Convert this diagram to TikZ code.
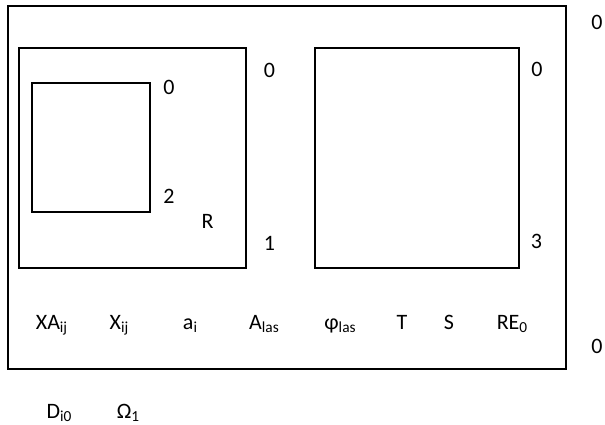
\documentclass[tikz,border=0pt]{standalone}
\usepackage{fontspec}
\setmainfont{Carlito}
\newcommand{\sbs}[1]{\raisebox{-0.32ex}{\fontsize{11.5}{12}\selectfont #1}}
\begin{document}
\begin{tikzpicture}[x=0.75pt,y=-0.75pt,
  box/.style={draw=black,line width=1.2pt},
  lbl/.style={anchor=base,inner sep=0pt,font=\fontsize{16.5}{19}\selectfont}]
\useasboundingbox (0,0) rectangle (605,424);
% boxes
\draw[box] (8,6) rectangle (566,369);
\draw[box] (19,48) rectangle (246,268);
\draw[box] (32,83) rectangle (150,212);
\draw[box] (315,48) rectangle (519,268);
% numbers
\node[lbl] (o0) at (597,30) {0};
\node[lbl] (l0) at (269.5,78) {0};
\node[lbl] (s0) at (169,95) {0};
\node[lbl] (r0) at (537,77) {0};
\node[lbl] (s2) at (169,203) {2};
\node[lbl] (rR) at (207.5,228) {R};
\node[lbl] (l1) at (269.5,250) {1};
\node[lbl] (r3) at (536.5,248) {3};
\node[lbl] (b0) at (597,353) {0};
% variables row
\node[lbl] (xa) at (51.5,329) {XA\sbs{ij}};
\node[lbl] (x) at (119,329) {X\sbs{ij}};
\node[lbl] (a) at (190,329) {a\sbs{i}};
\node[lbl] (al) at (264,329) {A\sbs{las}};
\node[lbl] (ph) at (340,329) {φ\sbs{las}};
\node[lbl] (t) at (402,329) {T};
\node[lbl] (s) at (449,329) {S};
\node[lbl] (re) at (512,329) {RE\sbs{0}};
% below
\node[lbl] (d) at (59,418) {D\sbs{i0}};
\node[lbl] (om) at (128,418) {Ω\sbs{1}};
\end{tikzpicture}
\end{document}
